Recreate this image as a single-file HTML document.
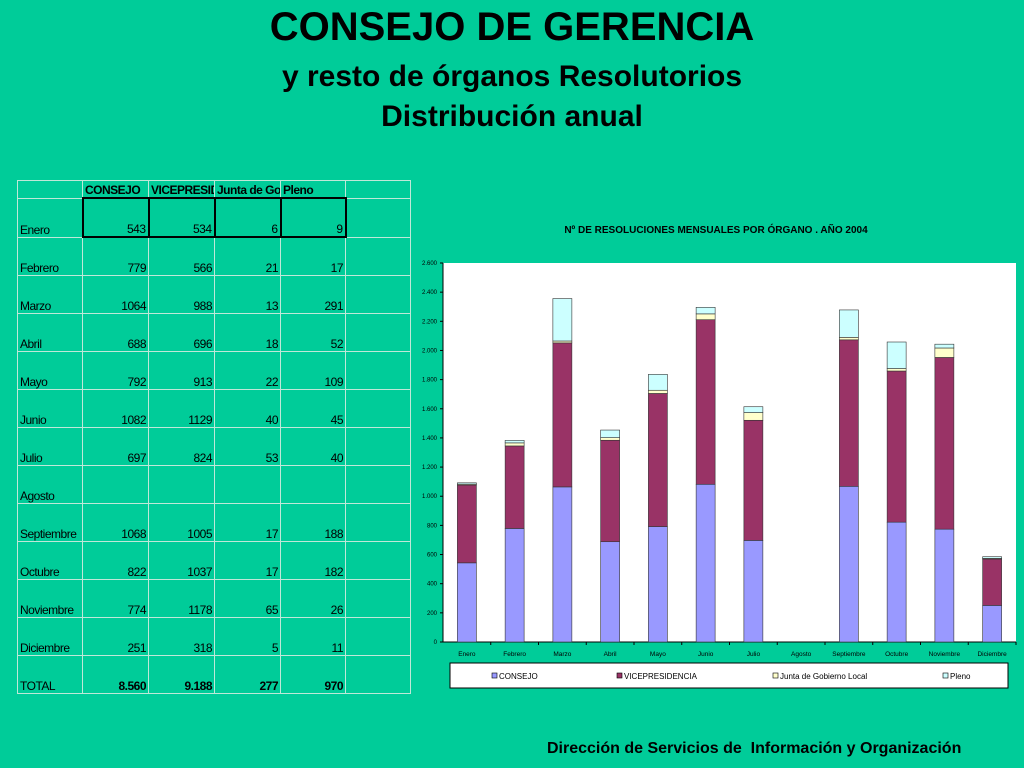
<!DOCTYPE html>
<html><head><meta charset="utf-8"><style>
body{margin:0;width:1024px;height:768px;background:#00CC99;font-family:"Liberation Sans",sans-serif;position:relative;overflow:hidden}
.t{position:absolute;left:0;width:1024px;text-align:center;font-weight:bold;color:#000}
table{position:absolute;left:17px;top:180px;border-collapse:collapse;font-size:12px;letter-spacing:-0.5px}
td{border:1px solid #bfe8d8;height:37px;vertical-align:bottom;padding:0 2px;text-align:right;overflow:hidden;white-space:nowrap}
tr.h td{height:16px;font-weight:bold;text-align:left}
td.l{text-align:left}
</style></head><body>
<div class="t" style="top:5px;font-size:40px">CONSEJO DE GERENCIA</div>
<div class="t" style="top:60px;font-size:30px">y resto de órganos Resolutorios</div>
<div class="t" style="top:100px;font-size:30px">Distribución anual</div>
<table id="tbl"></table>
<svg id="ch" width="1024" height="768" style="position:absolute;left:0;top:0"></svg>
<div style="position:absolute;left:547px;top:740px;font-size:16px;font-weight:bold">Dirección de Servicios de &nbsp;Información y Organización</div>
<script>
const months=["Enero","Febrero","Marzo","Abril","Mayo","Junio","Julio","Agosto","Septiembre","Octubre","Noviembre","Diciembre"];
const consejo=[543,779,1064,688,792,1082,697,null,1068,822,774,251];
const vice=[534,566,988,696,913,1129,824,null,1005,1037,1178,318];
const junta=[6,21,13,18,22,40,53,null,17,17,65,5];
const pleno=[9,17,291,52,109,45,40,null,188,182,26,11];
const totals=["8.560","9.188","277","970"];
const yTicks=[0,200,400,600,800,1000,1200,1400,1600,1800,2000,2200,2400,2600];
const yTickLabels=["0","200","400","600","800","1.000","1.200","1.400","1.600","1.800","2.000","2.200","2.400","2.600"];
const seriesNames=["CONSEJO","VICEPRESIDENCIA","Junta de Gobierno Local","Pleno"];
const colors=["#9999FF","#993366","#FFFFCC","#CCFFFF"];
// table
const tb=document.getElementById('tbl');
const widths=[65,66,66,66,65,65];
let h='<tr class="h">';
["","CONSEJO","VICEPRESID","Junta de Go","Pleno",""].forEach((c,i)=>h+=`<td style="width:${widths[i]-5}px;max-width:${widths[i]-5}px">${c}</td>`);
h+='</tr>';
months.forEach((m,i)=>{const s=i===0?'border:2px solid #000':'';h+=`<tr><td class="l">${m}</td>`;
[consejo,vice,junta,pleno].forEach(a=>h+=`<td style="${s}">${a[i]==null?'':a[i]}</td>`);h+='<td></td></tr>';});
h+='<tr><td class="l">TOTAL</td>'+totals.map(t=>`<td style="font-weight:bold">${t}</td>`).join('')+'<td></td></tr>';
tb.innerHTML=h;
// chart
const svg=document.getElementById('ch');const NS='http://www.w3.org/2000/svg';
function el(t,a,txt){const e=document.createElementNS(NS,t);for(const k in a)e.setAttribute(k,a[k]);if(txt!=null)e.textContent=txt;svg.appendChild(e);return e;}
const L=443,R=1016,T=263,B=642;
const y=v=>B-(v/2600)*(B-T);
const bw=(R-L)/12;const x=i=>L+bw*i+bw/2;
let e=el('text',{x:716,y:233,'font-size':10,'font-weight':'bold','text-anchor':'middle'},'Nº DE RESOLUCIONES MENSUALES POR ÓRGANO . AÑO 2004');

e=el('rect',{x:L,y:T,width:R-L,height:B-T,fill:'#fff'});

el('line',{x1:L,y1:T,x2:L,y2:B,stroke:'#000'});el('line',{x1:L,y1:B,x2:R,y2:B,stroke:'#000'});
yTicks.forEach((v,i)=>{el('line',{x1:L-3,y1:y(v),x2:L,y2:y(v),stroke:'#000'});
e=el('text',{x:L-6,y:y(v)+2,'font-size':6,'text-anchor':'end'},yTickLabels[i]);
});
const series=[consejo,vice,junta,pleno];
months.forEach((m,i)=>{el('line',{x1:L+bw*(i+1),y1:B,x2:L+bw*(i+1),y2:B+3,stroke:'#000'});
e=el('text',{x:x(i),y:B+14,'font-size':6.5,'text-anchor':'middle'},m);

let acc=0;series.forEach((s,k)=>{if(s[i]==null)return;const y0=y(acc),y1=y(acc+s[i]);acc+=s[i];
e=el('rect',{x:x(i)-9.5,y:y1,width:19,height:y0-y1,fill:colors[k],stroke:'#333','stroke-width':0.6});
});});
e=el('rect',{x:450,y:663,width:558,height:25,fill:'#fff',stroke:'#000','stroke-width':1});

const lx=[492,617,773,943];
seriesNames.forEach((n,k)=>{el('rect',{x:lx[k],y:673,width:5,height:5,fill:colors[k],stroke:'#000','stroke-width':0.6});
e=el('text',{x:lx[k]+7,y:679,'font-size':8},n);});
</script>
</body></html>
